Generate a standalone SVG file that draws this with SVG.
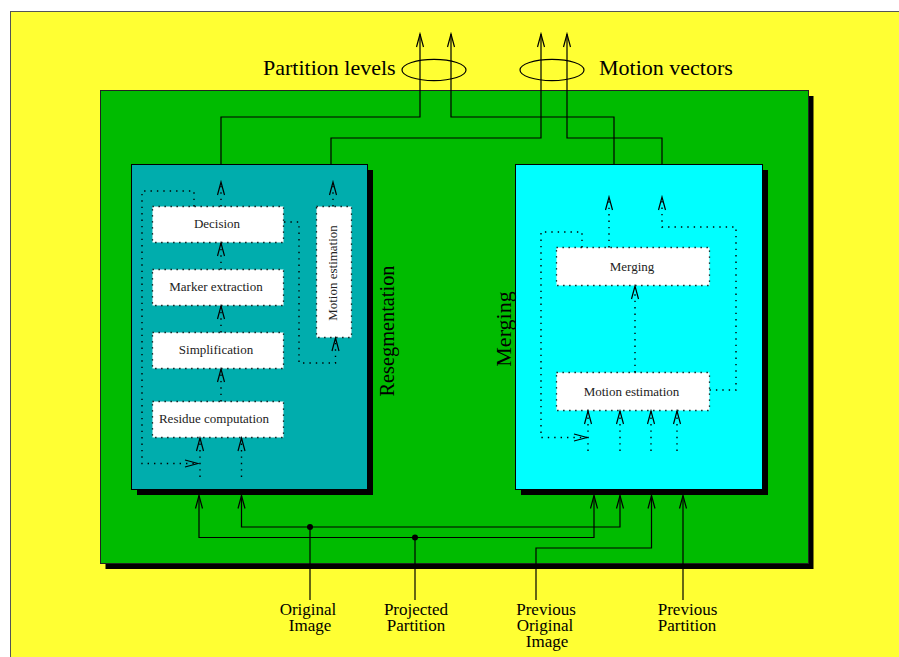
<svg xmlns="http://www.w3.org/2000/svg" width="899" height="657" viewBox="0 0 899 657">
  <style>
    .serif { font-family: "Liberation Serif", "DejaVu Serif", serif; fill: #000; }
    .big { font-size: 22px; }
    .small { font-size: 13px; fill: #222; }
    .label { font-size: 17px; text-anchor: middle; }
    .panel { stroke: #000; stroke-width: 1; }
    .shadow { fill: #000; }
    .box { fill: #fff; stroke: #000; stroke-width: 1.3; stroke-dasharray: 1.3 4.7; }
    .wire { fill: none; stroke: #000; stroke-width: 1.2; }
    .dot { fill: none; stroke: #000; stroke-width: 1.4; stroke-dasharray: 1.4 5; }
    .arr { marker-end: url(#vee); }
  </style>
  <defs>
    <marker id="vee" markerUnits="userSpaceOnUse" markerWidth="16" markerHeight="10" refX="14" refY="4.5" orient="auto" viewBox="0 0 16 9">
      <path d="M1,1 L14,4.5 L1,8" fill="none" stroke="#000" stroke-width="1.2" stroke-dasharray="none"/>
    </marker>
  </defs>

  <!-- page background -->
  <rect x="10.5" y="11.5" width="900" height="660" fill="#ffff33" stroke="#555" stroke-width="1"/>

  <!-- outer green frame -->
  <g id="frame">
    <rect class="shadow" x="105.5" y="96" width="708" height="473"/>
    <rect x="100.5" y="90.5" width="708" height="473" fill="#00bb00" stroke="#222" stroke-width="1"/>
  </g>

  <!-- output bundles -->
  <g id="outputs">
    <ellipse cx="434" cy="70" rx="32" ry="10.6" fill="none" stroke="#000" stroke-width="1.2"/>
    <ellipse cx="552" cy="70" rx="32" ry="10.6" fill="none" stroke="#000" stroke-width="1.2"/>
    <text class="serif big" x="263" y="75">Partition levels</text>
    <text class="serif big" x="599" y="75">Motion vectors</text>
  </g>

  <!-- resegmentation stage -->
  <g id="resegmentation">
    <rect class="shadow" x="137" y="170" width="236" height="325"/>
    <rect class="panel" x="131.5" y="164.5" width="236" height="325" fill="#00adad"/>
    <text class="serif big" transform="translate(393.5,331) rotate(-90)" text-anchor="middle" textLength="131" lengthAdjust="spacingAndGlyphs">Resegmentation</text>
  </g>
  <g id="decision">
    <rect class="box" x="152.5" y="206.5" width="131" height="36"/>
    <text class="serif small" x="217" y="227.5" text-anchor="middle">Decision</text>
  </g>
  <g id="marker-extraction">
    <rect class="box" x="152.5" y="269.5" width="131" height="36"/>
    <text class="serif small" x="216" y="290.5" text-anchor="middle">Marker extraction</text>
  </g>
  <g id="simplification">
    <rect class="box" x="152.5" y="332.5" width="131" height="36"/>
    <text class="serif small" x="216" y="353.5" text-anchor="middle">Simplification</text>
  </g>
  <g id="residue-computation">
    <rect class="box" x="152.5" y="401.5" width="131" height="36"/>
    <text class="serif small" x="214" y="422.5" text-anchor="middle">Residue computation</text>
  </g>
  <g id="motion-estimation-1">
    <rect class="box" x="316.5" y="206.5" width="35" height="131"/>
    <text class="serif small" transform="translate(337,273) rotate(-90)" text-anchor="middle">Motion estimation</text>
  </g>

  <!-- merging stage -->
  <g id="merging-stage">
    <rect class="shadow" x="521" y="170" width="247" height="325"/>
    <rect class="panel" x="515.5" y="164.5" width="247" height="325" fill="#00ffff"/>
    <text class="serif big" transform="translate(511,329) rotate(-90)" text-anchor="middle">Merging</text>
  </g>
  <g id="merging">
    <rect class="box" x="556.5" y="247.5" width="153" height="38"/>
    <text class="serif small" x="632" y="271" text-anchor="middle">Merging</text>
  </g>
  <g id="motion-estimation-2">
    <rect class="box" x="556.5" y="372.5" width="153" height="38"/>
    <text class="serif small" x="631.5" y="396" text-anchor="middle">Motion estimation</text>
  </g>

  <!-- inputs -->
  <g id="inputs">
    <text class="serif label" x="308" y="615">Original</text>
    <text class="serif label" x="310" y="631">Image</text>
    <text class="serif label" x="416" y="615">Projected</text>
    <text class="serif label" x="416" y="631">Partition</text>
    <text class="serif label" x="546" y="615">Previous</text>
    <text class="serif label" x="545" y="631">Original</text>
    <text class="serif label" x="547" y="647">Image</text>
    <text class="serif label" x="687.5" y="615">Previous</text>
    <text class="serif label" x="687" y="631">Partition</text>
  </g>

  <g id="connectors">
    <!-- outputs to the top -->
    <path class="wire arr" d="M221,164.5 V117 H420 V34"/>
    <path class="wire arr" d="M614,164.5 V117 H451 V34"/>
    <path class="wire arr" d="M331,164.5 V138 H541 V34"/>
    <path class="wire arr" d="M662,164.5 V138 H567 V34"/>

    <!-- inputs from the bottom -->
    <path class="wire" d="M310,600 V527"/>
    <path class="wire arr" d="M310,527 H241.5 V495.5"/>
    <path class="wire arr" d="M310,527 H620 V495.5"/>
    <path class="wire" d="M415,600 V537.5"/>
    <path class="wire arr" d="M415,537.5 H199 V495.5"/>
    <path class="wire arr" d="M415,537.5 H594 V495.5"/>
    <path class="wire arr" d="M536,600 V548 H651.5 V495.5"/>
    <path class="wire arr" d="M683,600 V495.5"/>
    <circle cx="310" cy="527" r="3" fill="#000"/>
    <circle cx="415" cy="537.5" r="3" fill="#000"/>

    <!-- resegmentation internals -->
    <path class="dot arr" d="M221,206.5 V182"/>
    <path class="dot arr" d="M333,206.5 V182"/>
    <path class="dot arr" d="M221,269.5 V243"/>
    <path class="dot arr" d="M221,332.5 V306"/>
    <path class="dot arr" d="M221,401.5 V369"/>
    <path class="dot arr" d="M200,477 V438"/>
    <path class="dot arr" d="M241.5,477 V438"/>
    <path class="dot arr" d="M194,206.5 V191 H142 V463.5 H198"/>
    <path class="dot arr" d="M284,222 H299 V363 H335.5 V338"/>

    <!-- merging internals -->
    <path class="dot arr" d="M609,247.5 V197"/>
    <path class="dot arr" d="M709.5,390 H736 V227 H662 V197"/>
    <path class="dot arr" d="M582,247.5 V232 H541 V437.5 H587"/>
    <path class="dot arr" d="M635,372.5 V286"/>
    <path class="dot arr" d="M588,451 V411"/>
    <path class="dot arr" d="M620,451 V411"/>
    <path class="dot arr" d="M651,451 V411"/>
    <path class="dot arr" d="M677,451 V411"/>
  </g>
</svg>
